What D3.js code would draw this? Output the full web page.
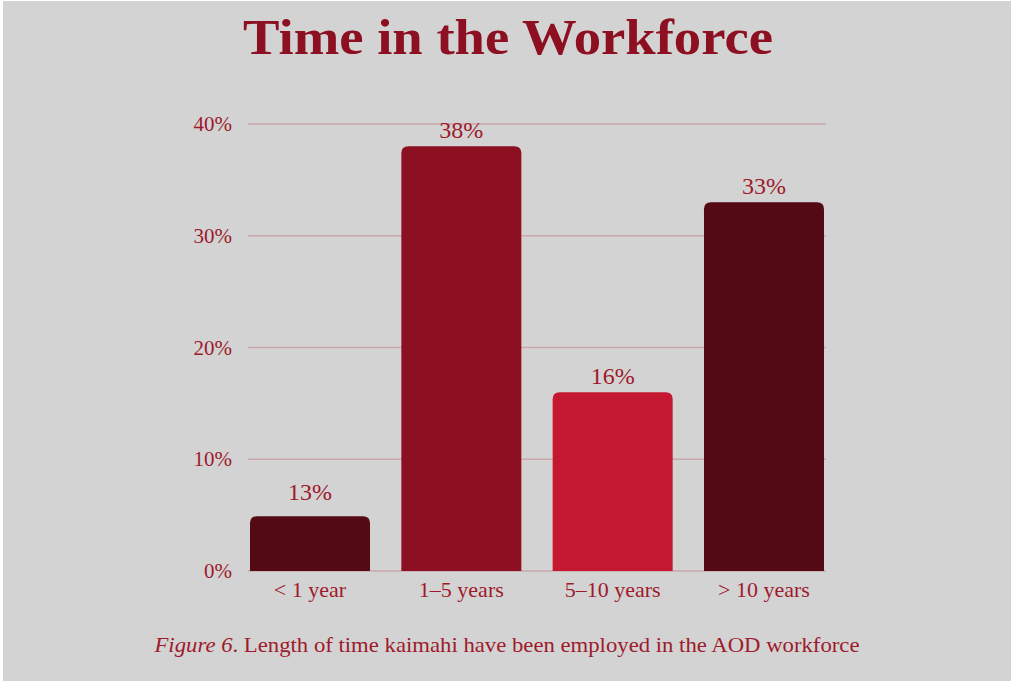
<!DOCTYPE html>
<html>
<head>
<meta charset="utf-8">
<script src="https://cdn.jsdelivr.net/npm/d3@7"></script>
<style>
  html, body { margin: 0; padding: 0; background: #ffffff; }
  svg { display: block; }
</style>
</head>
<body>
<div id="chart"></div>
<script>
// données
const categories = ["< 1 year", "1–5 years", "5–10 years", "> 10 years"];
const values = [4.9, 38, 16, 33];
const valueLabels = ["13%", "38%", "16%", "33%"];
const barColors = ["#540a15", "#8c1022", "#c41830", "#540a15"];
const yTicks = [0, 10, 20, 30, 40];

const W = 1011, H = 681;
const textColor = "#9e1a2c";
const serif = "'Liberation Serif', 'DejaVu Serif', serif";

const svg = d3.select("#chart")
  .append("svg")
  .attr("width", W)
  .attr("height", H);

// fond gris
svg.append("rect")
  .attr("x", 3).attr("y", 1)
  .attr("width", W - 3).attr("height", H - 1)
  .attr("fill", "#d3d3d3");

// échelles
const x = d3.scaleBand()
  .domain(categories)
  .range([250, 824])
  .paddingInner(0.207)
  .paddingOuter(0);

const y = d3.scaleLinear()
  .domain([0, 40])
  .range([571, 124]);

// grille
svg.append("g")
  .selectAll("line")
  .data(yTicks)
  .join("line")
  .attr("x1", 248).attr("x2", 826)
  .attr("y1", d => y(d)).attr("y2", d => y(d))
  .attr("stroke", "#c9a7ab")
  .attr("stroke-width", 1.3);

// étiquettes axe y
svg.append("g")
  .selectAll("text")
  .data(yTicks)
  .join("text")
  .attr("x", 232)
  .attr("y", d => y(d) + 7)
  .attr("text-anchor", "end")
  .attr("font-family", serif)
  .attr("font-size", "21px")
  .attr("fill", textColor)
  .text(d => d + "%");

// barres avec coins supérieurs arrondis
const r = 7;
function barPath(x0, y0, w, h) {
  return `M${x0},${y0 + h} V${y0 + r} Q${x0},${y0} ${x0 + r},${y0} H${x0 + w - r} Q${x0 + w},${y0} ${x0 + w},${y0 + r} V${y0 + h} Z`;
}

svg.append("g")
  .selectAll("path")
  .data(categories)
  .join("path")
  .attr("d", (d, i) => barPath(x(d), y(values[i]), x.bandwidth(), y(0) - y(values[i])))
  .attr("fill", (d, i) => barColors[i]);

// étiquettes des valeurs
svg.append("g")
  .selectAll("text")
  .data(categories)
  .join("text")
  .attr("x", d => x(d) + x.bandwidth() / 2)
  .attr("y", (d, i) => y(values[i]) - (i === 0 ? 16 : 8))
  .attr("text-anchor", "middle")
  .attr("font-family", serif)
  .attr("font-size", "24px")
  .attr("fill", textColor)
  .text((d, i) => valueLabels[i]);

// étiquettes axe x
svg.append("g")
  .selectAll("text")
  .data(categories)
  .join("text")
  .attr("x", d => x(d) + x.bandwidth() / 2)
  .attr("y", 597)
  .attr("text-anchor", "middle")
  .attr("font-family", serif)
  .attr("font-size", "22px")
  .attr("fill", textColor)
  .text(d => d);

// titre
svg.append("text")
  .attr("x", 508)
  .attr("y", 54)
  .attr("text-anchor", "middle")
  .attr("font-family", serif)
  .attr("font-weight", "bold")
  .attr("font-size", "50px")
  .attr("fill", "#8c1022")
  .attr("textLength", 530)
  .attr("lengthAdjust", "spacingAndGlyphs")
  .text("Time in the Workforce");

// légende de la figure
const caption = svg.append("text")
  .attr("x", 507)
  .attr("y", 652)
  .attr("text-anchor", "middle")
  .attr("font-family", serif)
  .attr("font-size", "21px")
  .attr("fill", textColor)
  .attr("textLength", 705)
  .attr("lengthAdjust", "spacingAndGlyphs");

caption.append("tspan").attr("font-style", "italic").text("Figure 6");
caption.append("tspan").text(". Length of time kaimahi have been employed in the AOD workforce");
</script>
</body>
</html>
